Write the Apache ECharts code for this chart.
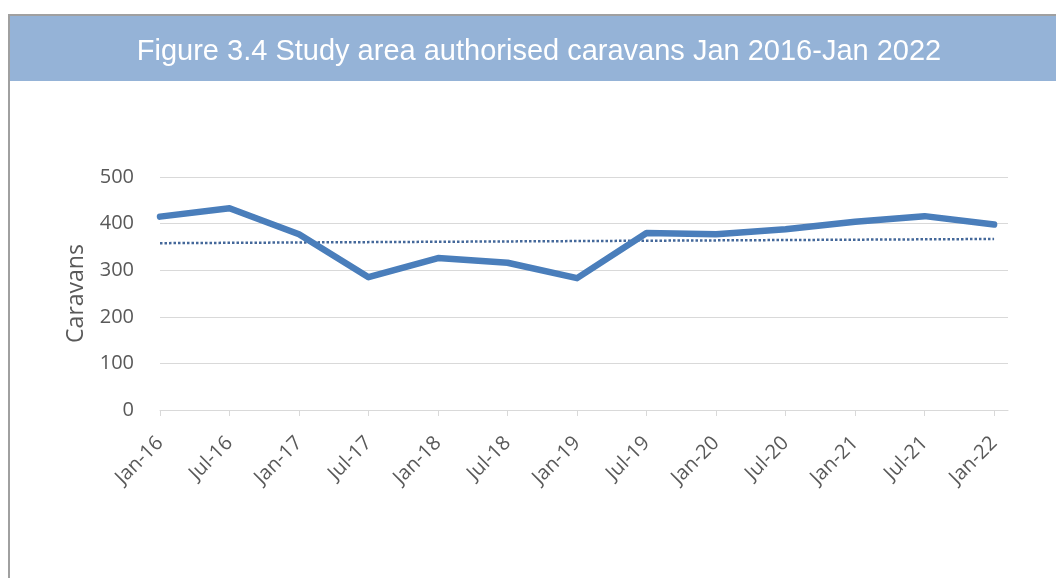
<!DOCTYPE html>
<html>
<head>
<meta charset="utf-8">
<script src="https://cdn.jsdelivr.net/npm/echarts@6/dist/echarts.min.js"></script>
<style>
html,body{margin:0;padding:0;background:#fff;}
#chart{width:1056px;height:578px;}
</style>
</head>
<body>
<div id="chart"></div>
<script>
const titleText = 'Figure 3.4 Study area authorised caravans Jan 2016-Jan 2022';
const categories = ['Jan-16','Jul-16','Jan-17','Jul-17','Jan-18','Jul-18','Jan-19','Jul-19','Jan-20','Jul-20','Jan-21','Jul-21','Jan-22'];
const caravans = [415, 433, 377, 285, 326, 316, 283, 380, 377, 388, 404, 416, 398];
const trendStart = 358;   // dotted linear trend at Jan-16
const trendEnd = 367;     // dotted linear trend at Jan-22
const yAxisName = 'Caravans';

const lastIdx = categories.length - 1;
const catIdx = categories.map((c, i) => i);

const chart = echarts.init(document.getElementById('chart'), null, {renderer: 'canvas'});
chart.setOption({
  animation: false,
  backgroundColor: '#ffffff',
  graphic: [
    {type: 'rect', shape: {x: 9, y: 15, width: 1200, height: 800},
     style: {fill: '#ffffff', stroke: '#a0a0a0', lineWidth: 2}, z: -10, silent: true},
    {type: 'rect', shape: {x: 10, y: 16, width: 1200, height: 65},
     style: {fill: '#95b3d7'}, z: -9, silent: true},
    {type: 'text', x: 539, y: 52, silent: true,
     style: {text: titleText, fill: '#ffffff', font: '29px "Liberation Sans", Arial, sans-serif',
             textAlign: 'center', textVerticalAlign: 'middle'}}
  ],
  grid: {left: 160, right: 48, top: 177, bottom: 168, containLabel: false},
  xAxis: {
    type: 'value', min: 0, max: lastIdx + 0.2, interval: 1,
    axisLine: {show: true, lineStyle: {color: '#d9d9d9', width: 1}},
    axisTick: {show: true, length: 6, customValues: catIdx, lineStyle: {color: '#d9d9d9'}},
    splitLine: {show: false},
    axisLabel: {
      customValues: catIdx,
      rotate: 45, margin: 30, color: '#595959',
      fontFamily: '"Open Sans", sans-serif', fontSize: 20,
      formatter: v => categories[Math.round(v)] || ''
    }
  },
  yAxis: {
    type: 'value', min: 0, max: 500, interval: 100,
    name: yAxisName, nameLocation: 'middle', nameGap: 72,
    nameTextStyle: {color: '#595959', fontFamily: '"Open Sans", sans-serif', fontSize: 23},
    axisLine: {show: false}, axisTick: {show: false},
    splitLine: {lineStyle: {color: '#d9d9d9', width: 1}},
    axisLabel: {color: '#595959', fontFamily: '"Open Sans", sans-serif', fontSize: 20, margin: 26}
  },
  series: [
    {type: 'line', data: caravans.map((v, i) => [i, v]), symbol: 'none', z: 3,
     lineStyle: {color: '#4a7ebb', width: 6.5, cap: 'round', join: 'round'}},
    {type: 'line', data: [[0, trendStart], [lastIdx, trendEnd]], symbol: 'none', z: 2,
     lineStyle: {color: '#44689a', width: 2.5, type: [2.5, 2]}}
  ]
});
</script>
</body>
</html>
